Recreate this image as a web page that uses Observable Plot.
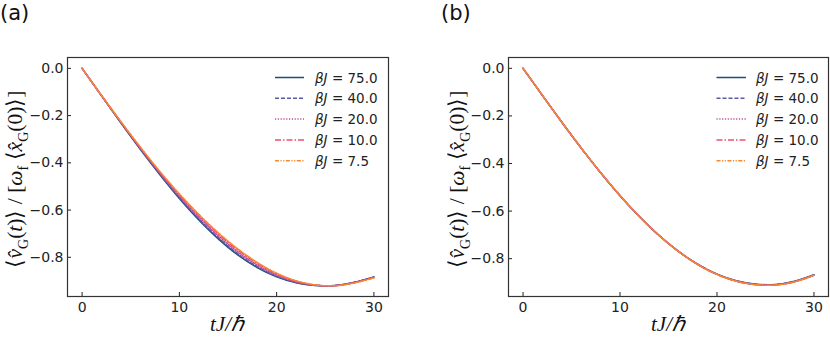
<!DOCTYPE html>
<html><head><meta charset="utf-8">
<script src="https://cdn.jsdelivr.net/npm/d3@7"></script>
<script src="https://cdn.jsdelivr.net/npm/@observablehq/plot@0.6"></script>
<style>
html,body{margin:0;padding:0;background:#fff;}
#wrap{position:relative;width:830px;height:339px;overflow:hidden;font-family:"DejaVu Sans",sans-serif;}
.panel{position:absolute;top:0;}
.plab{position:absolute;font-size:21px;line-height:24px;color:#111;}
.ylab{position:absolute;font-family:"Liberation Serif",serif;font-size:21.5px;white-space:nowrap;transform:translate(-50%,-50%) rotate(-90deg);color:#111;}
.xlab{position:absolute;font-family:"Liberation Serif",serif;font-size:21px;font-style:italic;white-space:nowrap;transform:translate(-50%,-50%);color:#111;}
.leg{position:absolute;top:0;left:0;}
</style></head>
<body><div id="wrap"></div>
<script>
const times = [0,2,4,6,8,10,12,14,16,18,20,22,24,26,28,30];
const betaLabels = ["75.0","40.0","20.0","10.0","7.5"];
const colors = ["#1f4e75","#5a5aa6","#c04aa0","#ef4f6e","#f8892e"];
const dashes = ["none","4,2","1.2,1.6","6,2,1.5,2","4,1.5,1.2,1.5,1.2,1.5"];

// panel (a)
const a75  = [0,-0.1163,-0.2318,-0.3437,-0.4503,-0.5508,-0.6417,-0.7219,-0.7898,-0.8434,-0.8830,-0.9082,-0.9197,-0.9195,-0.9055,-0.8830];
const a40  = [0,-0.1159,-0.2306,-0.3417,-0.4475,-0.5468,-0.6369,-0.7167,-0.7846,-0.8390,-0.8798,-0.9064,-0.9191,-0.9197,-0.9061,-0.8838];
const a20  = [0,-0.1153,-0.2288,-0.3387,-0.4433,-0.5408,-0.6297,-0.7089,-0.7768,-0.8324,-0.8750,-0.9037,-0.9182,-0.9200,-0.9070,-0.8850];
const a10  = [0,-0.1147,-0.2270,-0.3357,-0.4391,-0.5348,-0.6225,-0.7011,-0.7690,-0.8258,-0.8702,-0.9010,-0.9173,-0.9203,-0.9079,-0.8862];
const a7_5 = [0,-0.1143,-0.2258,-0.3337,-0.4363,-0.5308,-0.6177,-0.6959,-0.7638,-0.8214,-0.8670,-0.8992,-0.9167,-0.9205,-0.9085,-0.8870];
// panel (b)
const b75  = [0,-0.1140,-0.2265,-0.3353,-0.4388,-0.5353,-0.6233,-0.7015,-0.7685,-0.8234,-0.8652,-0.8932,-0.9072,-0.9085,-0.8950,-0.8675];
const b40  = [0,-0.1140,-0.2264,-0.3351,-0.4386,-0.5351,-0.6231,-0.7013,-0.7684,-0.8235,-0.8655,-0.8937,-0.9080,-0.9095,-0.8960,-0.8685];
const b20  = [0,-0.1140,-0.2263,-0.3350,-0.4384,-0.5349,-0.6229,-0.7012,-0.7683,-0.8236,-0.8658,-0.8942,-0.9087,-0.9103,-0.8968,-0.8692];
const b10  = [0,-0.1139,-0.2262,-0.3348,-0.4382,-0.5347,-0.6227,-0.7011,-0.7683,-0.8237,-0.8661,-0.8947,-0.9093,-0.9110,-0.8976,-0.8700];
const b7_5 = [0,-0.1139,-0.2261,-0.3347,-0.4380,-0.5345,-0.6226,-0.7010,-0.7683,-0.8238,-0.8660,-0.8944,-0.9090,-0.9105,-0.8972,-0.8696];

const xTicks = [0,10,20,30];
const yTicks = [0,-0.2,-0.4,-0.6,-0.8];

const fmtY = d => (d < 0 ? "\u2212" : "") + Math.abs(d).toFixed(1);

function makePanel(series, left, mL, mR, ydom) {
  const marks = [];
  series.forEach((vals, i) => {
    const data = times.map((t, j) => ({t, v: vals[j]}));
    marks.push(Plot.line(data, {x: "t", y: "v", stroke: colors[i], strokeWidth: 1.5,
      strokeDasharray: dashes[i], curve: "catmull-rom"}));
  });
  marks.push(Plot.axisX({ticks: xTicks, tickSize: -4, tickPadding: 10, tickFormat: d => String(d), label: null}));
  marks.push(Plot.axisY({ticks: yTicks, tickSize: -4, tickPadding: 8, tickFormat: fmtY, label: null}));
  marks.push(Plot.frame({stroke: "#333", strokeWidth: 1.2}));
  const p = Plot.plot({
    width: 415, height: 339, marginLeft: mL, marginRight: mR, marginTop: 57, marginBottom: 43,
    x: {domain: [-1.5, 31.5]}, y: {domain: ydom},
    style: {fontFamily: "DejaVu Sans, sans-serif", fontSize: "14px", color: "#222", background: "transparent"},
    marks
  });
  const d = document.createElement("div");
  d.className = "panel"; d.style.left = left + "px";
  d.appendChild(p);
  return d;
}

const wrap = document.getElementById("wrap");
wrap.appendChild(makePanel([a75,a40,a20,a10,a7_5], 0, 67, 27, [-0.966, 0.046]));
wrap.appendChild(makePanel([b75,b40,b20,b10,b7_5], 415, 93, 2, [-0.959, 0.0455]));

function addText(cls, html, x, y) {
  const e = document.createElement("div");
  e.className = cls; e.innerHTML = html;
  e.style.left = x + "px"; e.style.top = y + "px";
  wrap.appendChild(e);
}
const sub = s => '<sub style="font-size:14px;font-style:normal">' + s + '</sub>';
const yl = '\u27E8<i>v\u0302</i>' + sub('G') + '(<i>t</i>)\u27E9 / [<i>\u03C9</i>' + sub('f') + ' \u27E8<i>x\u0302</i>' + sub('G') + '(0)\u27E9]';
addText("plab", "(a)", 0, 1);
addText("plab", "(b)", 441, 1);
addText("ylab", yl, 17, 179);
addText("ylab", yl, 459, 179);
addText("xlab", "tJ/\u210F", 227, 323);
addText("xlab", "tJ/\u210F", 668, 323);

// legends
const legSvg = d3.select(wrap).append("svg").attr("class","leg").attr("width",830).attr("height",339);
const rows = [77.5, 98.3, 119.1, 139.9, 160.7];
[[275,304,315],[716.5,746,756]].forEach(([x1,x2,tx]) => {
  betaLabels.forEach((lab, i) => {
    legSvg.append("line").attr("x1",x1).attr("x2",x2).attr("y1",rows[i]).attr("y2",rows[i])
      .attr("stroke",colors[i]).attr("stroke-width",1.5).attr("stroke-dasharray",dashes[i]);
    const t = legSvg.append("text").attr("x",tx).attr("y",rows[i]+5)
      .attr("font-family","DejaVu Sans, sans-serif").attr("font-size",13.5).attr("fill","#222");
    t.append("tspan").attr("font-style","italic").text("\u03B2J");
    t.append("tspan").text(" = " + lab);
  });
});
</script></body></html>
